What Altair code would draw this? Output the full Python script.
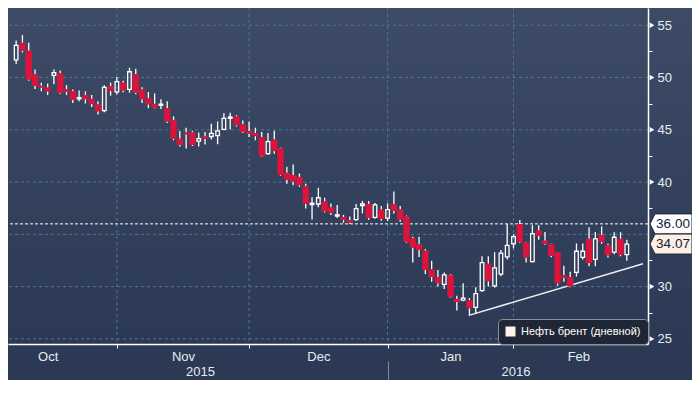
import altair as alt
import pandas as pd

# ---- data (Brent crude, daily candles) ----
opens = [51.68, 53.32, 52.57, 50.31, 49.21, 49.04, 50.20, 50.40, 48.86, 48.68,
         47.96, 48.32, 47.96, 47.43, 46.83, 49.15, 48.62, 49.51, 48.86, 50.31,
         48.86, 48.02, 47.48, 47.35, 47.07, 45.94, 44.15, 44.75, 44.75, 43.91,
         44.36, 44.36, 44.45, 45.04, 46.10, 46.29, 45.55, 44.89, 44.69, 44.30,
         42.72, 44.06, 43.26, 40.88, 40.67, 40.49, 39.60, 37.85, 37.90, 38.14,
         37.60, 36.75, 36.65, 36.36, 36.41, 37.75, 37.90, 36.62, 37.37, 36.56,
         37.90, 37.37, 36.71, 34.63, 34.04, 33.44, 31.65, 30.91, 30.22, 31.12,
         28.82, 28.70, 28.68, 28.02, 29.62, 32.19, 30.07, 31.20, 32.84, 34.09,
         36.00, 34.24, 32.39, 35.37, 34.39, 34.04, 33.29, 31.06, 30.91, 31.36,
         32.79, 34.57, 32.61, 34.93, 33.97, 33.29, 34.57, 33.05]
highs = [53.53, 54.06, 53.32, 50.76, 49.51, 49.42, 50.76, 50.67, 49.27, 48.86,
         48.77, 48.68, 48.32, 47.72, 49.27, 49.51, 50.04, 49.69, 50.94, 50.85,
         49.06, 48.62, 48.46, 47.93, 47.72, 46.29, 44.89, 45.20, 44.90, 44.75,
         44.80, 45.58, 45.79, 46.59, 46.63, 46.40, 45.90, 45.80, 45.20, 44.80,
         44.69, 44.90, 43.30, 41.47, 41.68, 40.82, 39.84, 38.55, 39.45, 38.50,
         37.96, 37.81, 36.86, 36.70, 37.90, 38.20, 38.20, 38.00, 37.70, 37.96,
         39.09, 37.70, 36.80, 34.78, 34.78, 33.60, 32.48, 31.59, 31.36, 31.20,
         29.12, 30.31, 28.90, 29.95, 32.90, 32.90, 33.29, 33.50, 36.00, 34.99,
         36.36, 34.30, 35.88, 35.88, 35.22, 34.10, 33.30, 32.00, 31.41, 34.13,
         34.13, 35.67, 35.22, 35.76, 34.10, 35.20, 35.20, 34.48]
lows = [51.30, 52.40, 49.70, 48.91, 48.68, 48.32, 49.36, 48.45, 48.32, 47.57,
        47.72, 47.52, 47.19, 46.47, 46.68, 48.26, 48.38, 48.60, 48.55, 48.40,
        47.57, 47.07, 47.07, 46.98, 45.64, 44.00, 43.40, 43.20, 43.45, 43.41,
        43.60, 44.06, 43.62, 44.96, 45.04, 45.30, 44.70, 44.30, 44.00, 42.40,
        42.61, 42.70, 40.60, 39.84, 39.69, 39.54, 37.46, 36.41, 37.60, 37.10,
        36.86, 36.56, 36.11, 36.00, 36.30, 37.00, 36.40, 36.50, 36.30, 36.27,
        37.00, 36.20, 34.20, 32.30, 32.84, 31.20, 30.46, 30.02, 29.78, 28.90,
        27.72, 28.60, 27.25, 27.40, 29.50, 30.02, 29.90, 31.00, 32.60, 33.65,
        34.20, 32.30, 32.30, 34.48, 34.00, 32.80, 30.10, 30.46, 29.95, 30.96,
        32.60, 31.95, 31.95, 34.10, 32.79, 33.10, 32.90, 32.48]
closes = [53.08, 52.57, 49.80, 49.21, 49.04, 48.68, 50.46, 48.55, 48.62, 47.84,
          48.08, 47.93, 47.48, 46.77, 49.06, 48.71, 49.60, 48.77, 50.55, 48.55,
          47.93, 47.43, 47.13, 47.45, 45.79, 44.15, 43.55, 44.57, 43.55, 44.15,
          44.15, 44.66, 44.89, 46.09, 46.22, 45.43, 44.80, 44.60, 44.39, 42.46,
          43.86, 42.96, 40.67, 40.22, 40.04, 39.69, 37.90, 37.97, 38.50, 37.21,
          37.07, 36.87, 36.36, 36.12, 37.46, 37.90, 36.56, 37.81, 36.47, 37.37,
          37.25, 36.41, 34.27, 33.73, 33.50, 31.59, 30.91, 30.31, 31.12, 28.97,
          28.53, 28.90, 27.93, 29.33, 32.30, 30.52, 31.80, 33.20, 33.95, 34.78,
          34.27, 32.79, 35.07, 34.87, 34.09, 32.93, 30.31, 30.85, 30.02, 33.38,
          33.38, 32.25, 34.57, 34.27, 32.99, 34.72, 33.05, 34.07]

month_bounds = [16, 37, 59, 79]            # candle index of month gridlines
month_names = ["Oct", "Nov", "Dec", "Jan", "Feb"]
month_centers = [5.0, 26.5, 48.0, 69.0, 89.3]
year_names = ["2015", "2016"]
year_centers = [29.2, 79.3]
year_breaks = [59]
y_major = [25, 30, 35, 40, 45, 50, 55]
y_labelled = [25, 30, 40, 45, 50, 55]      # 35 sits under the price tags
y_minor = [27.5, 32.5, 37.5, 42.5, 47.5, 52.5]
trend_i = [71.9, 99.57]
trend_v = [27.25, 32.19]
level_value = [36.0]
tag_values = [36.00, 34.07]
tag_text = ["36.00", "34.07"]
tag_fill = ["#ffffff", "#fdefe4"]
series_name = "Нефть брент (дневной)"

# ---- layout / style ----
W, H = 640, 336
XDOM = [-0.5, 99.57]
YDOM = [24.51, 56.65]
FONT = "Liberation Sans, Arial, sans-serif"
LABEL = "#e8ecf2"
GRID = "#4a7a92"
RED = "#dc143c"
BG = "#2c3954"

n = len(opens)
df = pd.DataFrame({"i": list(range(n)), "o": opens, "h": highs, "l": lows, "c": closes})
df["top"] = df[["o", "c"]].max(axis=1)
df["bot"] = df[["o", "c"]].min(axis=1)
df["up"] = df["c"] >= df["o"]

xs = alt.Scale(domain=XDOM, nice=False, zero=False)
ys = alt.Scale(domain=YDOM, nice=False, zero=False)


def lab_expr(names, vals):
    return ("[" + ",".join("'%s'" % s for s in names) + "][indexof(["
            + ",".join(str(v) for v in vals) + "], datum.value)]")


axA = alt.Axis(values=month_bounds, orient="bottom", grid=False, labels=False,
               ticks=True, tickSize=4, tickColor="white", tickWidth=1,
               domain=True, domainColor="white", domainWidth=1.5, title=None, zindex=1)
axB = alt.Axis(values=month_centers, orient="bottom", grid=False, ticks=False, domain=False,
               labelExpr=lab_expr(month_names, month_centers), labelPadding=6,
               labelFontSize=13, labelFont=FONT, labelColor=LABEL, labelFlush=False,
               labelOverlap=False, title=None, zindex=1)
axC = alt.Axis(values=year_centers, orient="bottom", grid=False, ticks=False, domain=False,
               labelExpr=lab_expr(year_names, year_centers), labelPadding=21,
               labelFontSize=13, labelFont=FONT, labelColor=LABEL, labelFlush=False,
               labelOverlap=False, title=None, zindex=1)
axD = alt.Axis(values=year_breaks, orient="bottom", grid=False, labels=False, domain=False,
               ticks=True, offset=17, tickSize=19, tickColor="#7f8ba0", tickWidth=1,
               title=None, zindex=1)
ayL = alt.Axis(values=y_labelled, orient="right", grid=False, ticks=False, domain=True,
               domainColor="white", domainWidth=1.5, labelPadding=9, labelFontSize=13,
               labelFont=FONT, labelColor=LABEL, labelFlush=False, labelOverlap=False,
               title=None, zindex=1)
ayM = alt.Axis(values=y_minor, orient="right", grid=False, labels=False, domain=False,
               ticks=True, tickSize=4, tickColor="white", tickWidth=1, title=None, zindex=1)

grad = alt.LinearGradient(gradient="linear",
                          stops=[alt.GradientStop(color="#3e4b66", offset=0),
                                 alt.GradientStop(color="#2c3955", offset=1)],
                          x1=0, x2=0, y1=0, y2=1)

bg = alt.Chart(pd.DataFrame({"a": [0]})).mark_rect(fill=grad).encode(
    x=alt.value(0), x2=alt.value(W + 60), y=alt.value(0), y2=alt.value(H))

hgrid = alt.Chart(pd.DataFrame({"v": y_major})).mark_rule(
    color=GRID, strokeDash=[3, 3], strokeWidth=1).encode(
    y=alt.Y("v:Q", scale=ys, axis=None))
vgrid = alt.Chart(pd.DataFrame({"m": month_bounds})).mark_rule(
    color=GRID, strokeDash=[3, 3], strokeWidth=1).encode(
    x=alt.X("m:Q", scale=xs, axis=None))

level = alt.Chart(pd.DataFrame({"v": level_value})).mark_rule(
    color="white", strokeDash=[3, 2], strokeWidth=1).encode(
    y=alt.Y("v:Q", scale=ys, axis=None))

trend = alt.Chart(pd.DataFrame({"i": trend_i, "v": trend_v, "name": [series_name] * 2})).mark_line(
    strokeWidth=1.5).encode(
    x=alt.X("i:Q", scale=xs, axis=None),
    y=alt.Y("v:Q", scale=ys, axis=None),
    color=alt.Color("name:N", scale=alt.Scale(domain=[series_name], range=["#eeeeee"]),
                    legend=alt.Legend(title=None, orient="bottom-right", offset=0,
                                      fillColor="#1f2636", strokeColor="#8a909c",
                                      cornerRadius=4, padding=7, symbolType="square",
                                      symbolSize=100, symbolFillColor="#fdf1ea",
                                      symbolStrokeWidth=0, labelFontSize=11,
                                      labelFont=FONT, labelColor="white", labelOffset=5,
                                      zindex=1)))

base = alt.Chart(df)
wick_up = base.mark_rule(color="white", strokeWidth=1.3).encode(
    x=alt.X("i:Q", scale=xs, axis=axA),
    y=alt.Y("h:Q", scale=ys, axis=ayL), y2="top:Q")
wick_dn = base.mark_rule(color="white", strokeWidth=1.3).encode(
    x=alt.X("i:Q", scale=xs, axis=axB),
    y=alt.Y("bot:Q", scale=ys, axis=ayM), y2="l:Q")
red = base.transform_filter("!datum.up").mark_bar(size=6.3, color=RED).encode(
    x=alt.X("i:Q", scale=xs, axis=axC),
    y=alt.Y("top:Q", scale=ys, axis=None), y2="bot:Q")
white = base.transform_filter("datum.up").mark_bar(
    size=3.6, filled=False, color="white", strokeWidth=1.3).encode(
    x=alt.X("i:Q", scale=xs, axis=axD),
    y=alt.Y("top:Q", scale=ys, axis=None), y2="bot:Q")

tri = alt.Chart(pd.DataFrame({"v": y_labelled})).mark_point(
    shape="triangle-right", filled=True, color="white", size=30, opacity=1).encode(
    x=alt.value(W + 4), y=alt.Y("v:Q", scale=ys, axis=None))

tags_df = pd.DataFrame({"v": tag_values, "t": tag_text, "f": tag_fill})
tag_box = alt.Chart(tags_df).mark_point(
    shape="M-1,0 L-0.76,-0.476 L1,-0.476 L1,0.476 L-0.76,0.476 Z",
    size=1764, filled=True, stroke="#1d2333", strokeWidth=1, opacity=1).encode(
    x=alt.value(W + 23), y=alt.Y("v:Q", scale=ys, axis=None),
    color=alt.Color("f:N", scale=None))
tag_txt = alt.Chart(tags_df).mark_text(
    fontSize=13.5, font=FONT, color="#14203a", align="center", baseline="middle").encode(
    x=alt.value(W + 25), y=alt.Y("v:Q", scale=ys, axis=None), text="t:N")

chart = alt.layer(
    bg, hgrid, vgrid, level, trend, wick_up, wick_dn, red, white, tri, tag_box, tag_txt
).resolve_axis(x="independent", y="independent").properties(
    width=W, height=H,
    autosize=alt.AutoSizeParams(type="none"),
    padding={"left": 0, "top": 0, "right": 44, "bottom": 36},
    background=BG,
).configure_view(stroke=None)

chart.save("out.html", embed_options={"renderer": "svg", "actions": False})
